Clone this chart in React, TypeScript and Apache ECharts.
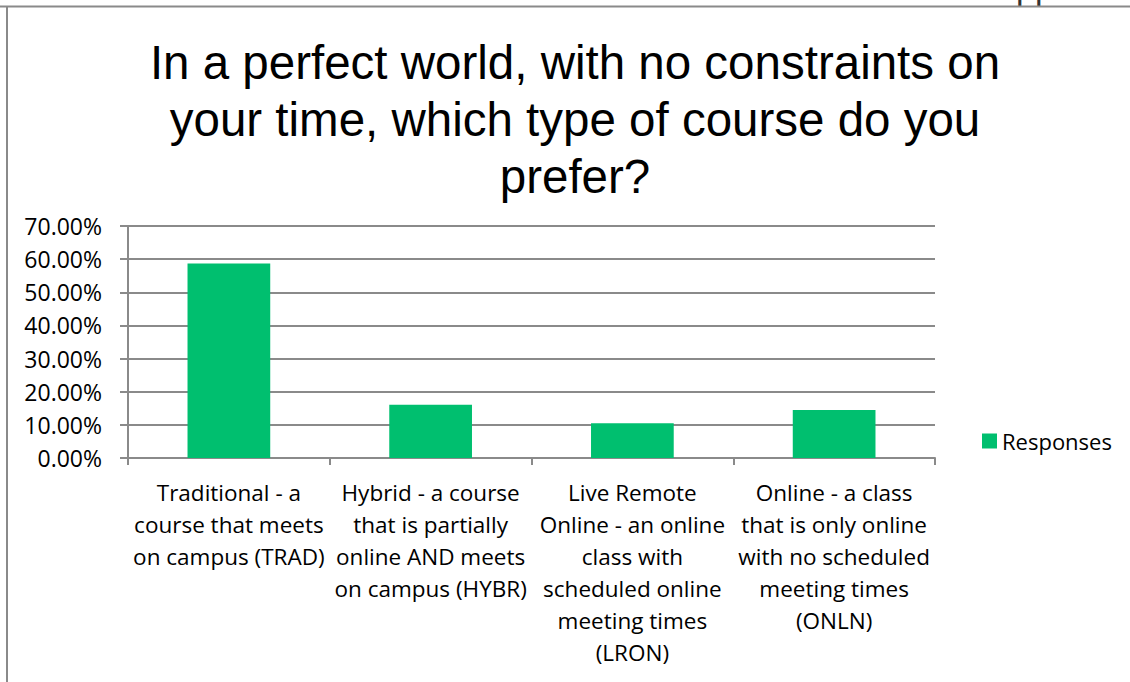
import React, { useEffect, useRef } from "react";
import * as echarts from "echarts";

const titleLines = [
  "In a perfect world, with no constraints on",
  "your time, which type of course do you",
  "prefer?",
];

const categories = [
  "Traditional - a\ncourse that meets\non campus (TRAD)",
  "Hybrid - a course\nthat is partially\nonline AND meets\non campus (HYBR)",
  "Live Remote\nOnline - an online\nclass with\nscheduled online\nmeeting times\n(LRON)",
  "Online - a class\nthat is only online\nwith no scheduled\nmeeting times\n(ONLN)",
];

const seriesName = "Responses";
const responses = [0.587, 0.161, 0.105, 0.145];

const yMin = 0;
const yMax = 0.7;
const yInterval = 0.1;

const GRAY = "#8a8a8a";
const GREEN = "#00bf6f";
const FONT = "Open Sans";

export default function App() {
  const ref = useRef<HTMLDivElement>(null);

  useEffect(() => {
    if (!ref.current) return;
    const chart = echarts.init(ref.current, null, { renderer: "svg" });
    chart.setOption({
      animation: false,
      backgroundColor: "#ffffff",
      title: {
        text: titleLines.join("\n"),
        left: 570,
        textAlign: "center",
        top: 29,
        textStyle: {
          fontFamily: "Liberation Sans",
          fontSize: 47.5,
          fontWeight: "normal",
          color: "#000000",
          lineHeight: 57,
        },
      },
      legend: {
        data: [seriesName],
        left: 977,
        top: 425,
        itemWidth: 15,
        itemHeight: 15,
        icon: "rect",
        textStyle: { fontFamily: FONT, fontSize: 22, color: "#000000" },
      },
      grid: { left: 128, right: 195, top: 226, bottom: 224, containLabel: false },
      xAxis: {
        type: "category",
        data: categories,
        axisLine: { lineStyle: { color: GRAY, width: 2 } },
        axisTick: { show: true, length: 7, lineStyle: { color: GRAY, width: 2 } },
        axisLabel: {
          interval: 0,
          margin: 18,
          fontFamily: FONT,
          fontSize: 22.5,
          lineHeight: 32,
          color: "#000000",
        },
      },
      yAxis: {
        type: "value",
        min: yMin,
        max: yMax,
        interval: yInterval,
        axisLine: { show: true, lineStyle: { color: GRAY, width: 2 } },
        axisTick: { show: true, length: 8, lineStyle: { color: GRAY, width: 2 } },
        splitLine: { lineStyle: { color: GRAY, width: 2 } },
        axisLabel: {
          margin: 26,
          fontFamily: FONT,
          fontSize: 23,
          color: "#000000",
          formatter: (v: number) => (v * 100).toFixed(2) + "%",
        },
      },
      series: [
        {
          name: seriesName,
          type: "bar",
          data: responses,
          barCategoryGap: "59%",
          itemStyle: { color: GREEN },
        },
      ],
      graphic: [
        {
          type: "text",
          x: 1016,
          y: 5,
          style: {
            text: "pp",
            font: "34px Liberation Sans",
            fill: "#333333",
            verticalAlign: "bottom",
          },
        },
        {
          type: "line",
          shape: { x1: 0, y1: 6.5, x2: 1130, y2: 6.5 },
          style: { stroke: GRAY, lineWidth: 2 },
        },
        {
          type: "line",
          shape: { x1: 7, y1: 6, x2: 7, y2: 682 },
          style: { stroke: GRAY, lineWidth: 2 },
        },
      ],
    });
    return () => chart.dispose();
  }, []);

  return (
    <div
      ref={ref}
      style={{ position: "absolute", left: 0, top: 0, width: 1130, height: 682 }}
    />
  );
}
